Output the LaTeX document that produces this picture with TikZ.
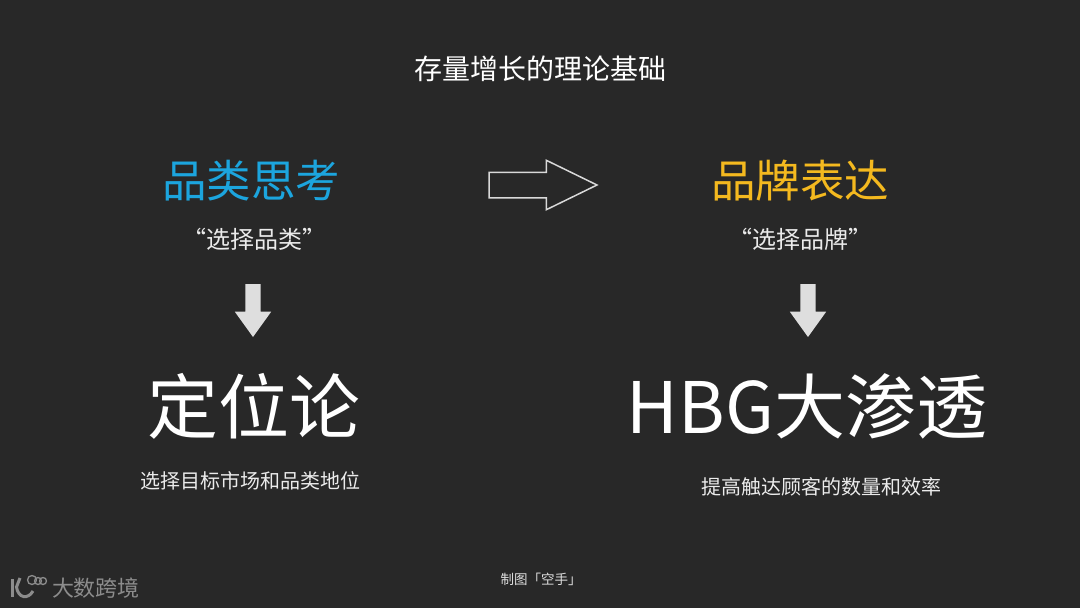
\documentclass[tikz,border=0pt]{standalone}
\usepackage{fontspec}
\usepackage{tikz}
\usetikzlibrary{shapes.arrows,positioning}
\setmainfont{Noto Sans CJK SC}
\definecolor{darkbg}{HTML}{282828}
\definecolor{catblue}{HTML}{1CA5DE}
\definecolor{brandyellow}{HTML}{F4B91F}
\definecolor{logogray}{HTML}{8C8C8C}
\tikzstyle{title} = [text=white, font=\fontsize{28}{32}\selectfont, inner sep=0pt]
\tikzstyle{head} = [font=\fontsize{44.5}{50}\selectfont, inner sep=0pt]
\tikzstyle{quoted} = [text=white!92!black, font=\fontsize{24}{28}\selectfont, inner sep=0pt]
\tikzstyle{theory} = [text=white, font=\fontsize{71}{76}\selectfont, inner sep=0pt]
\tikzstyle{note} = [text=white!92!black, font=\fontsize{20}{24}\selectfont, inner sep=0pt]
\tikzstyle{downarrow} = [single arrow, fill=white!87!black, inner sep=7.5pt, rotate=-90, anchor=tail,
                         minimum width=36pt, minimum height=53pt, outer sep=0pt,
                         single arrow head extend=10.5pt, single arrow tip angle=71.5]
\begin{document}
\begin{tikzpicture}[x=1pt, y=-1pt]
    \fill [darkbg] (0,0) rectangle (1080,608);
    \node [title] (main) at (540,69) {存量增长的理论基础};

    \node [head, text=catblue] (cat) at (251,181) {品类思考};
    \node [quoted] (catq) at (254,239) {“选择品类”};
    \node [downarrow] (catdown) at (253,284) {};
    \node [theory] (pos) at (254,406) {定位论};
    \node [note] (catnote) at (250.5,481) {选择目标市场和品类地位};

    \node [single arrow, draw=white!85!black, line width=1.5pt, inner sep=12pt, anchor=tip, outer sep=0pt,
           minimum width=48pt, minimum height=108pt,
           single arrow head extend=12pt, single arrow tip angle=52] (shift) at (597,185) {};

    \node [head, text=brandyellow] (brand) at (800,181) {品牌表达};
    \node [quoted] (brandq) at (800,239) {“选择品牌”};
    \node [downarrow] (branddown) at (808,284) {};
    \node [theory] (hbg) at (807,406) {HBG大渗透};
    \node [note] (brandnote) at (821.5,487) {提高触达顾客的数量和效率};

    \node [text=white!88!black, font=\fontsize{13.5}{16}\selectfont, inner sep=0pt] (credit) at (541,579) {制图「空手」};

    % logo
    \node [text=logogray, font=\fontsize{22}{26}\selectfont, inner sep=0pt] (logotext) at (96,588) {大数跨境};
    \draw [logogray, line width=3.6pt] (12.5,579) -- (12.5,597);
    \draw [logogray, line width=3pt] (20,578) -- (16.5,587) .. controls (18,598) and (28,600) .. (33,591);
    \draw [logogray, line width=1.3pt] (32,580) circle (4.5);
    \draw [logogray, line width=1.3pt] (38,581) circle (3.5);
    \draw [logogray, line width=1.3pt] (43,581) circle (3.5);
\end{tikzpicture}
\end{document}
